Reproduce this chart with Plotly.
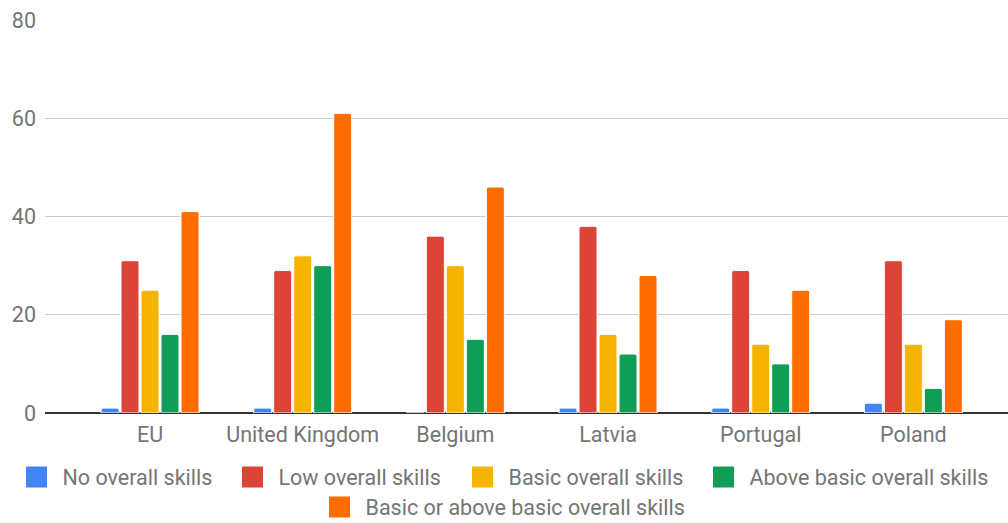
import plotly.graph_objects as go

# Share of individuals by level of overall digital skills (%)
countries = ["EU", "United Kingdom", "Belgium", "Latvia", "Portugal", "Poland"]
series_names = [
    "No overall skills",
    "Low overall skills",
    "Basic overall skills",
    "Above basic overall skills",
    "Basic or above basic overall skills",
]
no_skills = [1, 1, 0, 1, 1, 2]
low_skills = [31, 29, 36, 38, 29, 31]
basic_skills = [25, 32, 30, 16, 14, 14]
above_basic_skills = [16, 30, 15, 12, 10, 5]
basic_or_above_skills = [41, 61, 46, 28, 25, 19]
y_ticks = [0, 20, 40, 60, 80]

series_values = [no_skills, low_skills, basic_skills, above_basic_skills, basic_or_above_skills]
colors = ["#4285F4", "#DB4437", "#F4B400", "#0F9D58", "#FF6D01"]
text_color = "#757575"
font_family = "Roboto, Arial, sans-serif"
font_size = 21.5

W, H = 1008, 523
# Legend entry placement (left edge of swatch, row centre) in pixels
legend_slots = [(26, 477), (242, 477), (472, 477), (713, 477), (329, 507)]
legend_ids = ["legend", "legend2", "legend3", "legend4", "legend5"]

fig = go.Figure()

# Grouped bars (legend entries are drawn by the square-marker traces below)
for name, vals, col in zip(series_names, series_values, colors):
    fig.add_trace(go.Bar(
        x=countries,
        y=vals,
        name=name,
        marker=dict(color=col, line=dict(color="white", width=1), cornerradius=2),
        showlegend=False,
    ))

# Legend keys with larger square swatches
for name, col, lid in zip(series_names, colors, legend_ids):
    fig.add_trace(go.Scatter(
        x=[None], y=[None],
        mode="markers",
        name=name,
        marker=dict(symbol="square", size=16, color=col, line=dict(color=col, width=5)),
        legend=lid,
        hoverinfo="skip",
    ))

item_width = 42
swatch_offset = 5 + item_width / 2 - 10.5
legends = {}
for lid, (px, py) in zip(legend_ids, legend_slots):
    legends[lid] = dict(
        orientation="h",
        xref="container", yref="container",
        xanchor="left", yanchor="middle",
        x=(px - swatch_offset) / W,
        y=(H - py) / H,
        font=dict(family=font_family, size=font_size, color=text_color),
        bgcolor="rgba(0,0,0,0)",
        itemwidth=item_width,
        itemclick=False, itemdoubleclick=False,
    )

fig.update_layout(
    width=W, height=H,
    margin=dict(l=45, r=0, t=20, b=110),
    paper_bgcolor="white", plot_bgcolor="white",
    barmode="group",
    bargap=0.345,
    bargroupgap=0.1,
    font=dict(family=font_family, size=font_size, color=text_color),
    xaxis=dict(
        range=[-0.688, 5.62],
        showgrid=False,
        showline=False,
        ticks="",
        ticklabelstandoff=6,
        tickfont=dict(family=font_family, size=font_size, color=text_color),
        fixedrange=True,
    ),
    yaxis=dict(
        range=[0, 80],
        tickvals=y_ticks,
        showgrid=True,
        gridcolor="#CCCCCC",
        gridwidth=1,
        zeroline=True,
        zerolinecolor="#333333",
        zerolinewidth=2,
        showline=False,
        ticks="",
        ticklabelstandoff=8,
        tickfont=dict(family=font_family, size=font_size, color=text_color),
        fixedrange=True,
    ),
    **legends,
)

fig.write_html("out.html")
